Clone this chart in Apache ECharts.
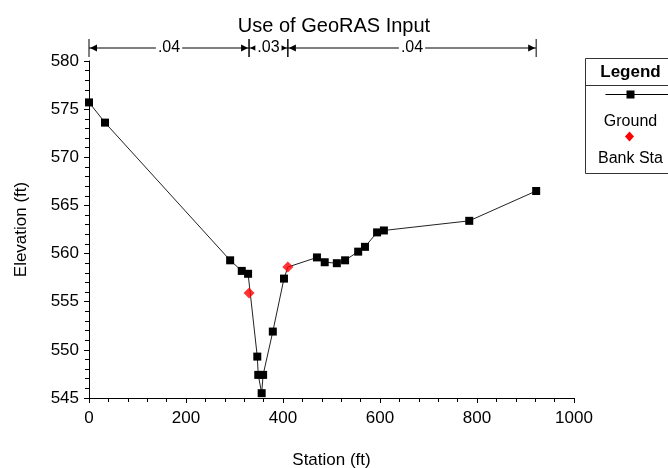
<!DOCTYPE html>
<html>
<head>
<meta charset="utf-8">
<script src="https://cdn.jsdelivr.net/npm/echarts@6/dist/echarts.min.js"></script>
<style>
  html, body { margin: 0; padding: 0; background: #fff; }
  #chart { width: 668px; height: 468px; }
</style>
</head>
<body>
<div id="chart"></div>
<script>
// ground profile
var stations = [0, 33, 291, 315, 328, 347, 349, 356, 359, 379, 402, 410, 470, 486, 511, 528, 555, 569, 594, 608, 784, 922];
var elevations = [575.7, 573.6, 559.3, 558.2, 557.9, 549.3, 547.4, 545.5, 547.4, 551.9, 557.4, 558.6, 559.6, 559.1, 559.0, 559.3, 560.2, 560.7, 562.2, 562.4, 563.4, 566.5];

// bank stations (red)
var bankStations = [330, 410];
var bankElevations = [555.9, 558.6];

// manning's n regions across the top
var nStarts = [0, 330, 410];
var nEnds = [330, 410, 922];
var nLabels = ['.04', '.03', '.04'];

var FONT = '"Liberation Sans", Arial, sans-serif';

var mychart = echarts.init(document.getElementById('chart'));

var groundData = stations.map(function (s, i) {
  var item = { value: [s, elevations[i]] };
  if (bankStations.indexOf(s) >= 0) item.symbol = 'none';
  return item;
});
var bankData = bankStations.map(function (s, i) { return [s, bankElevations[i]]; });
var nData = nStarts.map(function (s, i) { return [s, nEnds[i]]; });

function renderN(params, api) {
  var p0 = api.coord([api.value(0), 580]);
  var p1 = api.coord([api.value(1), 580]);
  var y = p0[1] - 13;
  var x0 = p0[0], x1 = p1[0];
  var black = { stroke: '#000', lineWidth: 1 };
  return {
    type: 'group',
    children: [
      { type: 'line', shape: { x1: x0, y1: y, x2: x1, y2: y }, style: black },
      { type: 'line', shape: { x1: x0, y1: y - 9, x2: x0, y2: y + 9 }, style: black },
      { type: 'line', shape: { x1: x1, y1: y - 9, x2: x1, y2: y + 9 }, style: black },
      { type: 'polygon', shape: { points: [[x0 + 1, y], [x0 + 8, y - 3.5], [x0 + 8, y + 3.5]] }, style: { fill: '#000' } },
      { type: 'polygon', shape: { points: [[x1 - 1, y], [x1 - 8, y - 3.5], [x1 - 8, y + 3.5]] }, style: { fill: '#000' } },
      {
        type: 'text',
        x: (x0 + x1) / 2, y: y,
        style: {
          text: nLabels[params.dataIndex],
          fill: '#000',
          font: '16px ' + FONT,
          align: 'center',
          verticalAlign: 'middle',
          backgroundColor: '#fff',
          padding: [0, 2]
        }
      }
    ]
  };
}

var option = {
  backgroundColor: '#fff',
  animation: false,
  title: {
    text: 'Use of GeoRAS Input',
    left: 'center',
    top: 11,
    textStyle: { fontFamily: FONT, fontSize: 20, fontWeight: 'normal', color: '#000' }
  },
  grid: { left: 89, right: 94, top: 61, bottom: 70, outerBoundsMode: 'none', containLabel: false },
  xAxis: {
    type: 'value',
    min: 0, max: 1000, interval: 200,
    name: 'Station (ft)',
    nameLocation: 'middle',
    nameGap: 54,
    nameTextStyle: { fontFamily: FONT, fontSize: 17, color: '#000' },
    axisLine: { onZero: false, lineStyle: { color: '#000', width: 1 } },
    axisTick: { show: true, length: 5, lineStyle: { color: '#000' } },
    minorTick: { show: true, splitNumber: 5, length: 4, lineStyle: { color: '#000' } },
    axisLabel: {
      fontFamily: FONT, fontSize: 17, color: '#000', margin: 12,
      formatter: function (v) { return String(v); }
    },
    splitLine: { show: false }
  },
  yAxis: {
    type: 'value',
    min: 545, max: 580, interval: 5,
    name: 'Elevation (ft)',
    nameLocation: 'middle',
    nameGap: 59,
    nameTextStyle: { fontFamily: FONT, fontSize: 17, color: '#000' },
    axisLine: { show: true, lineStyle: { color: '#000', width: 1 } },
    axisTick: { show: true, length: 5, lineStyle: { color: '#000' } },
    minorTick: { show: true, splitNumber: 5, length: 4, lineStyle: { color: '#000' } },
    axisLabel: { fontFamily: FONT, fontSize: 17, color: '#000', margin: 10 },
    splitLine: { show: false }
  },
  graphic: [
    {
      type: 'group',
      left: 583, top: 58,
      children: [
        { type: 'rect', shape: { x: 0, y: 0, width: 100, height: 115 }, style: { fill: '#fff', stroke: '#333', lineWidth: 1 } },
        { type: 'text', x: 45, y: 14, style: { text: 'Legend', font: 'bold 17px ' + FONT, fill: '#000', align: 'center', verticalAlign: 'middle' } },
        { type: 'line', shape: { x1: 0, y1: 27, x2: 100, y2: 27 }, style: { stroke: '#333', lineWidth: 1 } },
        { type: 'line', shape: { x1: 20, y1: 36, x2: 100, y2: 36 }, style: { stroke: '#000', lineWidth: 1 } },
        { type: 'rect', shape: { x: 41, y: 32, width: 8, height: 8 }, style: { fill: '#000' } },
        { type: 'text', x: 45, y: 63, style: { text: 'Ground', font: '16px ' + FONT, fill: '#000', align: 'center', verticalAlign: 'middle' } },
        { type: 'polygon', shape: { points: [[44, 73], [48.5, 78], [44, 83], [39.5, 78]] }, style: { fill: '#f00' } },
        { type: 'text', x: 45, y: 100, style: { text: 'Bank Sta', font: '16px ' + FONT, fill: '#000', align: 'center', verticalAlign: 'middle' } }
      ]
    }
  ],
  series: [
    {
      name: 'Ground',
      type: 'line',
      data: groundData,
      symbol: 'rect',
      symbolSize: 8,
      itemStyle: { color: '#000' },
      lineStyle: { color: '#222', width: 1 },
      z: 3
    },
    {
      name: 'Bank Sta',
      type: 'scatter',
      data: bankData,
      symbol: 'diamond',
      symbolSize: 11,
      itemStyle: { color: '#f00' },
      z: 4
    },
    {
      name: 'n',
      type: 'custom',
      data: nData,
      renderItem: renderN,
      clip: false,
      silent: true,
      z: 5
    }
  ]
};

mychart.setOption(option);
</script>
</body>
</html>
